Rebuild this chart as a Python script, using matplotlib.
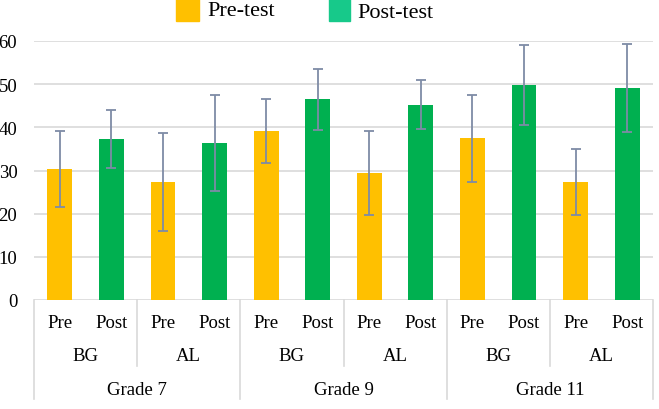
import matplotlib
matplotlib.use("Agg")
import matplotlib.pyplot as plt
from matplotlib.patches import Rectangle
from matplotlib.transforms import blended_transform_factory

plt.rcParams['font.family'] = ['Liberation Serif', 'DejaVu Serif']

tests = ["Pre", "Post"]
groups = ["BG", "AL"]
grades = ["Grade 7", "Grade 9", "Grade 11"]
pre_means = [30.4, 27.3, 39.2, 29.4, 37.5, 27.3]
pre_sd = [8.8, 11.3, 7.4, 9.7, 10.1, 7.6]
post_means = [37.3, 36.4, 46.5, 45.2, 49.8, 49.1]
post_sd = [6.8, 11.1, 7.1, 5.7, 9.2, 10.2]
legend_labels = ["Pre-test", "Post-test"]
yticks = [0, 10, 20, 30, 40, 50, 60]

pre_color = "#FFC000"
post_color = "#00B050"
legend_post_color = "#17C98A"
err_color = "#7E8BA6"
grid_color = "#D9D9D9"

fig = plt.figure(figsize=(6.59, 4.10), dpi=100)
ax = fig.add_axes([34/659, 1-301/410, (653-34)/659, (301-42)/410])

n = len(pre_means)
pre_x = [2*i for i in range(n)]
post_x = [2*i+1 for i in range(n)]
w = 0.48
ekw = dict(ecolor=err_color, elinewidth=1.3, capsize=3.5, capthick=1.3)
ax.bar(pre_x, pre_means, w, color=pre_color, yerr=pre_sd, error_kw=ekw, zorder=2)
ax.bar(post_x, post_means, w, color=post_color, yerr=post_sd, error_kw=ekw, zorder=2)

ax.set_xlim(-0.5, 2*n-0.5)
ax.set_ylim(0, 60)
ax.set_yticks(yticks)
ax.set_yticklabels([str(t) for t in yticks], fontsize=13.5)
ax.yaxis.grid(True, color=grid_color, lw=1.2, zorder=0)
ax.set_axisbelow(True)
ax.tick_params(axis='y', length=0, pad=12)
ax.tick_params(axis='x', length=0, labelbottom=False)
for s in ax.spines.values():
    s.set_visible(False)

tr = blended_transform_factory(ax.transData, ax.transAxes)
y_test, y_group, y_grade = -0.085, -0.216, -0.344
y_sub_line, y_grade_line = -0.255, -0.382

for i in range(n):
    ax.text(pre_x[i], y_test, tests[0], transform=tr, ha='center', va='center', fontsize=13.5)
    ax.text(post_x[i], y_test, tests[1], transform=tr, ha='center', va='center', fontsize=13.5)
    ax.text(2*i+0.5, y_group, groups[i % 2], transform=tr, ha='center', va='center', fontsize=13.5)
for g, name in enumerate(grades):
    ax.text(4*g+1.5, y_grade, name, transform=tr, ha='center', va='center', fontsize=13.5)

# table lines
for b in range(n+1):
    xb = 2*b - 0.5
    ybot = y_grade_line if b % 2 == 0 else y_sub_line
    ax.plot([xb, xb], [0, ybot], transform=tr, color=grid_color, lw=1.2, clip_on=False)

# legend
fig.patches.append(Rectangle((176/659, 1-22/410), 23/659, 22/410, transform=fig.transFigure,
                             color=pre_color, figure=fig))
fig.text(207/659, 1-11/410, legend_labels[0], fontsize=16, va='center', ha='left')
fig.patches.append(Rectangle((329/659, 1-22/410), 21/659, 22/410, transform=fig.transFigure,
                             color=legend_post_color, figure=fig))
fig.text(357/659, 1-13/410, legend_labels[1], fontsize=16, va='center', ha='left')

fig.savefig("out.png", dpi=100)
